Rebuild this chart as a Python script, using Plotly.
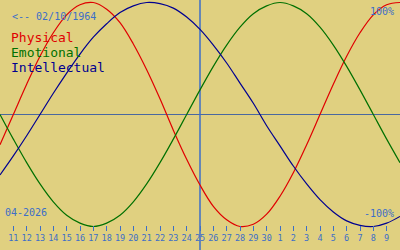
import pandas as pd
import plotly.graph_objects as go

# Dates shown (one value per day, 10 Apr 2026 .. 10 May 2026)
DATES = list(pd.date_range("2026-04-10", "2026-05-10", freq="D"))
TODAY = "2026-04-25"

# Biorhythm values in percent (one per day)
PHYSICAL = [-27, 0, 27, 52, 73, 89, 98, 100, 94, 82, 63, 40, 14, -14, -40, -63,
            -82, -94, -100, -98, -89, -73, -52, -27, 0, 27, 52, 73, 89, 98, 100]
EMOTIONAL = [0, -22, -43, -62, -78, -90, -97, -100, -97, -90, -78, -62, -43, -22, 0, 22,
             43, 62, 78, 90, 97, 100, 97, 90, 78, 62, 43, 22, 0, -22, -43]
INTELLECTUAL = [-54, -37, -19, 0, 19, 37, 54, 69, 81, 91, 97, 100, 99, 95, 87, 76,
                62, 46, 28, 10, -10, -28, -46, -62, -76, -87, -95, -99, -100, -97, -91]

TICK_DATES = DATES[1:30]
TICK_LABELS = ["11", "12", "13", "14", "15", "16", "17", "18", "19", "20", "21", "22",
               "23", "24", "25", "26", "27", "28", "29", "30", "1", "2", "3", "4",
               "5", "6", "7", "8", "9"]

SERIES = [("Physical", PHYSICAL, "#e00000"),
          ("Emotional", EMOTIONAL, "#007000"),
          ("Intellectual", INTELLECTUAL, "#000090")]

BG = "#e0d080"
AXIS_BLUE = "#3c6ec8"
MONO = "DejaVu Sans Mono"

fig = go.Figure()
for name, vals, col in SERIES:
    fig.add_trace(go.Scatter(x=DATES, y=vals, mode="lines", name=name,
                             line=dict(color=col, width=1.2, shape="spline"),
                             hoverinfo="skip"))

fig.add_hline(y=0, line=dict(color="#4a68a0", width=1.2), layer="below")
fig.add_vline(x=TODAY, line=dict(color=AXIS_BLUE, width=1.5), layer="below")

ann = []
ann.append(dict(text="<-- 02/10/1964", x=0.025, y=0.932, xanchor="left",
                font=dict(family=MONO, size=10, color=AXIS_BLUE)))
for i, (name, vals, col) in enumerate(SERIES):
    ann.append(dict(text=name, x=0.022, y=0.85 - i * 0.06, xanchor="left",
                    font=dict(family=MONO, size=13, color=col)))
ann.append(dict(text="100%", x=0.99, y=0.954, xanchor="right",
                font=dict(family=MONO, size=10, color=AXIS_BLUE)))
ann.append(dict(text="-100%", x=0.99, y=0.146, xanchor="right",
                font=dict(family=MONO, size=10, color=AXIS_BLUE)))
ann.append(dict(text="04-2026", x=0.008, y=0.152, xanchor="left",
                font=dict(family=MONO, size=10, color=AXIS_BLUE)))
for a in ann:
    a.update(xref="paper", yref="paper", yanchor="middle", showarrow=False)

fig.update_layout(
    width=400, height=250,
    margin=dict(l=0, r=0, t=0, b=0),
    paper_bgcolor=BG, plot_bgcolor=BG,
    showlegend=False,
    annotations=ann,
    xaxis=dict(type="date", range=[DATES[0], DATES[-1]],
               tickvals=TICK_DATES, ticktext=TICK_LABELS,
               anchor="free", position=0.1,
               ticks="outside", ticklen=5, tickcolor=AXIS_BLUE, tickwidth=1,
               showgrid=False, zeroline=False, showline=False,
               tickfont=dict(family=MONO, size=8.5, color=AXIS_BLUE)),
    yaxis=dict(range=[-120.98, 102.23], showgrid=False, zeroline=False,
               showticklabels=False, ticks=""),
)

fig.write_html("out.html")
